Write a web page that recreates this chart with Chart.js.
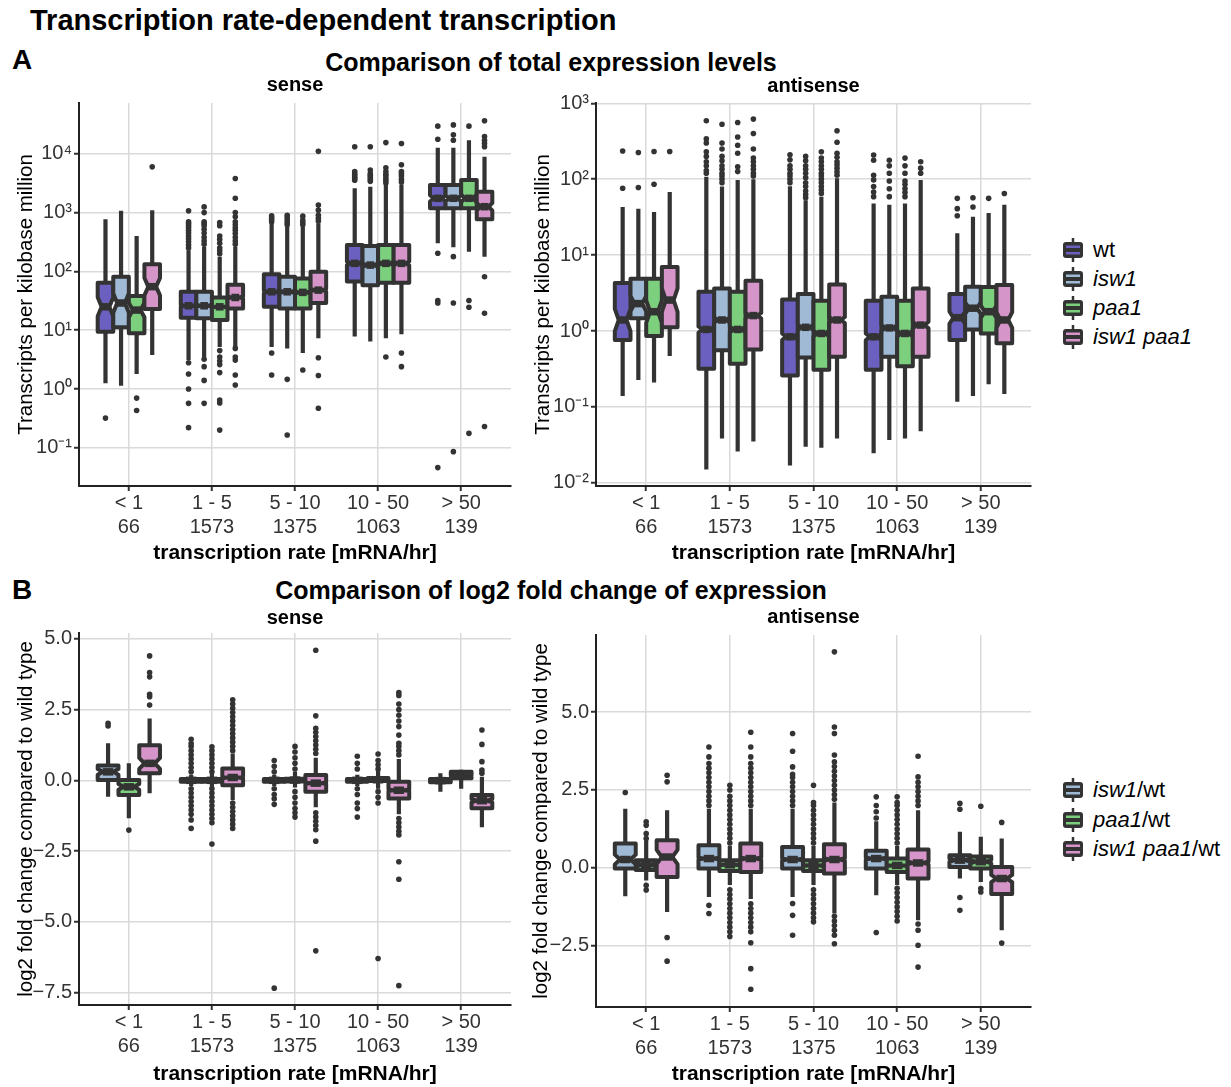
<!DOCTYPE html>
<html>
<head>
<meta charset="utf-8">
<script src="https://cdn.jsdelivr.net/npm/chart.js@4.4.0/dist/chart.umd.min.js"></script>
<style>
body { margin: 0; background: #fff; width: 1231px; height: 1087px; position: relative; overflow: hidden; font-family: "Liberation Sans", Arial, sans-serif; }
.t { position: absolute; white-space: nowrap; color: #000; font-weight: bold; }
.c { transform: translateX(-50%); }
canvas { position: absolute; }
.leg { position: absolute; left: 1062px; font-size: 22px; height: 26px; line-height: 26px; display: flex; align-items: center; white-space: nowrap; color: #000; }
.leg svg { margin-right: 9px; }
</style>
</head>
<body>
<div class="t" style="left:30px;top:3px;font-size:29px;line-height:34px">Transcription rate-dependent transcription</div>
<div class="t" style="left:12px;top:43px;font-size:28px;line-height:34px">A</div>
<div class="t c" style="left:551px;top:47px;font-size:25px;line-height:30px">Comparison of total expression levels</div>
<div class="t" style="left:12px;top:573px;font-size:28px;line-height:34px">B</div>
<div class="t c" style="left:551px;top:575px;font-size:25px;line-height:30px">Comparison of log2 fold change of expression</div>

<canvas id="aSense" width="520" height="504" style="left:0;top:66px"></canvas>
<canvas id="aAnti" width="520" height="504" style="left:520px;top:66px"></canvas>
<canvas id="bSense" width="520" height="493" style="left:0;top:594px"></canvas>
<canvas id="bAnti" width="520" height="493" style="left:520px;top:594px"></canvas>
<div id="legends"></div>

<script>
// categories and tick labels
var rateLabels = [["< 1", "66"], ["1 - 5", "1573"], ["5 - 10", "1375"], ["10 - 50", "1063"], ["> 50", "139"]];
var geneCounts = [66, 1573, 1375, 1063, 139];
var tpmSenseTicks = [0.1, 1, 10, 100, 1000, 10000];
var tpmAntiTicks = [0.01, 0.1, 1, 10, 100, 1000];
var foldSenseTicks = [-7.5, -5, -2.5, 0, 2.5, 5];
var foldAntiTicks = [-2.5, 0, 2.5, 5];

var strainLabels = ["wt", "<i>isw1</i>", "<i>paa1</i>", "<i>isw1 paa1</i>"];
var strainColors = ["#6b60bf", "#a0bad6", "#7ccf7c", "#d595c9"];
var ratioLabels = ["<i>isw1</i>/wt", "<i>paa1</i>/wt", "<i>isw1 paa1</i>/wt"];
var ratioColors = ["#a0bad6", "#7ccf7c", "#d595c9"];

// box stats per category: [lower whisker, Q1, median, Q3, upper whisker]
// A, sense (TPM)
var aSenseWt = [[1.25, 9.4, 25, 64, 770], [3.1, 16.3, 26, 45, 230], [5.2, 25, 45, 89, 660], [7.8, 67, 137, 281, 2600], [300, 1180, 1750, 2950, 12700]];
var aSenseWtOut = [[0.32], [0.22, 0.57, 1.0, 1.8, 2.8, 250, 280, 320, 360, 400, 450, 500, 550, 600, 650, 700, 1070], [1.73, 4.1, 700, 760, 820, 880], [3550, 3800, 4000, 4300, 4600, 5000, 13200], [0.046, 29, 32, 204, 17700, 29500]];
var aSenseIsw = [[1.14, 11.2, 29, 81, 1070], [3.5, 16, 26, 45, 260], [4.9, 23.5, 45, 81, 575], [6.4, 58, 128, 270, 2750], [257, 1180, 1750, 2950, 12700]];
var aSenseIswOut = [[], [0.57, 1.4, 2.4, 3.2, 290, 330, 380, 450, 520, 600, 650, 700, 1000, 1250], [0.165, 1.46, 620, 680, 750, 820, 900], [3400, 3700, 4000, 4300, 4600, 5300, 13200], [0.086, 29, 178, 17000, 21000, 31000]];
var aSensePaa = [[1.8, 8.9, 22, 38, 400], [5.2, 14.9, 25, 36, 178], [4.1, 23.5, 44, 76, 575], [7.3, 64, 137, 281, 2950], [216, 1180, 1750, 3580, 17000]];
var aSensePaaOut = [[0.43, 0.70], [0.2, 0.58, 0.65, 1.9, 2.6, 3, 3.5, 4.5, 200, 225, 250, 300, 350, 400, 600, 680], [2.1, 620, 680, 750, 870], [3.5, 3200, 3500, 3800, 4200, 4500, 5000, 5800, 15500], [0.176, 24.5, 32, 29500]];
var aSenseDbl = [[3.8, 23, 55, 132, 1100], [5.2, 23.5, 36, 59, 260], [7.3, 29, 48, 99, 660], [8.5, 64, 137, 281, 3000], [178, 770, 1260, 2270, 8900]];
var aSenseDblOut = [[6000], [1.17, 1.73, 3.1, 3.5, 4.9, 290, 330, 380, 440, 500, 550, 620, 700, 850, 1000, 1750, 3800], [0.47, 1.7, 3.4, 720, 800, 900, 1100, 1340, 11000], [2.4, 4.1, 3300, 3700, 4200, 4600, 5000, 6500, 15000], [0.23, 19.4, 81, 13200, 15000, 17000, 19600, 36500]];

// A, antisense (TPM)
var aAntiWt = [[0.14, 0.76, 1.4, 4.3, 43], [0.015, 0.32, 1.05, 3.3, 108], [0.017, 0.26, 0.84, 2.6, 81], [0.0245, 0.31, 0.84, 2.5, 48], [0.117, 0.76, 1.5, 3.07, 19.4]];
var aAntiWtOut = [[76, 235], [120, 130, 150, 170, 200, 230, 300, 340, 590], [90, 100, 110, 120, 135, 150, 180, 210], [59, 68, 80, 98, 113, 178, 209], [33, 41, 56]];
var aAntiIsw = [[0.226, 1.47, 2.3, 4.9, 41], [0.0385, 0.56, 1.4, 3.65, 80], [0.030, 0.45, 1.12, 3.07, 53], [0.0366, 0.46, 1.1, 2.83, 46], [0.14, 1.05, 2.0, 3.84, 32]];
var aAntiIswOut = [[78, 225], [90, 100, 110, 120, 135, 150, 175, 200, 250, 300, 530], [57, 63, 70, 80, 90, 105, 120, 135, 150, 175, 200], [59, 75, 95, 120, 150, 178], [43, 57]];
var aAntiPaa = [[0.21, 0.86, 1.8, 4.9, 37], [0.026, 0.37, 1.05, 3.3, 98], [0.029, 0.31, 0.93, 2.5, 59], [0.0385, 0.345, 0.93, 2.5, 48], [0.2, 0.93, 1.8, 3.8, 36]];
var aAntiPaaOut = [[86, 232], [126, 146, 220, 280, 360, 560], [65, 72, 80, 90, 100, 110, 120, 135, 150, 170, 190, 230], [59, 67, 75, 85, 95, 120, 150, 190], [56]];
var aAntiDbl = [[0.47, 1.12, 2.56, 7.0, 68], [0.035, 0.57, 1.6, 4.6, 100], [0.0385, 0.46, 1.4, 4.1, 103], [0.048, 0.46, 1.2, 3.65, 98], [0.148, 0.69, 1.4, 4.04, 46]];
var aAntiDblOut = [[232], [110, 120, 135, 150, 170, 190, 250, 400, 620], [113, 125, 140, 155, 170, 195, 220, 307, 435], [120, 140, 170], [65]];

// B, sense (log2 fold change)
var bSenseIsw = [[-0.58, 0.01, 0.30, 0.52, 1.31], [-0.2, -0.05, 0, 0.05, 0.2], [-0.2, -0.05, 0, 0.05, 0.2], [-0.2, -0.05, 0, 0.05, 0.2], [-0.4, -0.07, -0.01, 0.05, 0.25]];
var bSenseIswOut = [[1.92, 2.02], [-1.7, -1.4, -1.2, -1.05, -0.9, -0.75, -0.6, -0.45, -0.3, 0.3, 0.45, 0.6, 0.75, 0.9, 1.05, 1.2, 1.3, 1.45], [-7.35, -0.85, -0.65, -0.5, -0.3, 0.3, 0.5, 0.7], [-1.3, -1.0, -0.8, -0.5, -0.3, 0.4, 0.6, 0.85], []];
var bSensePaa = [[-1.34, -0.52, -0.23, 0.01, 0.6], [-0.25, -0.05, 0, 0.05, 0.25], [-0.25, -0.04, 0.01, 0.06, 0.3], [-0.3, -0.02, 0.02, 0.08, 0.35], [-0.3, 0.07, 0.15, 0.30, 0.37]];
var bSensePaaOut = [[-1.76], [-2.25, -1.5, -1.35, -1.2, -1.05, -0.9, -0.75, -0.6, -0.45, -0.3, 0.3, 0.45, 0.6, 0.75, 0.9, 1.05, 1.19], [-1.3, -1.15, -1.0, -0.8, -0.6, -0.4, 0.4, 0.6, 0.8, 1.0, 1.2], [-6.3, -0.8, -0.6, -0.4, 0.4, 0.55, 0.7, 0.93], []];
var bSenseDbl = [[-0.46, 0.25, 0.6, 1.24, 2.19], [-0.7, -0.17, 0.1, 0.42, 0.95], [-0.95, -0.4, -0.1, 0.19, 0.8], [-1.2, -0.64, -0.35, -0.05, 0.75], [-1.66, -0.99, -0.72, -0.52, 0.13]];
var bSenseDblOut = [[2.66, 2.96, 3.04, 3.66, 3.81, 4.40], [-1.7, -1.55, -1.4, -1.25, -1.1, -0.95, -0.8, 1.05, 1.2, 1.35, 1.5, 1.65, 1.8, 1.95, 2.1, 2.25, 2.4, 2.55, 2.7, 2.85], [-6.03, -2.15, -1.75, -1.6, -1.45, -1.3, -1.15, 0.95, 1.1, 1.25, 1.4, 1.55, 1.7, 1.84, 2.28, 4.6], [-7.26, -3.5, -2.88, -1.93, -1.8, -1.65, -1.5, -1.35, 0.9, 1.05, 1.2, 1.31, 1.6, 1.9, 2.1, 2.3, 2.5, 2.7, 3.0, 3.1], [0.25, 0.36, 0.66, 1.27, 1.78]];

// B, antisense (log2 fold change)
var bAntiIsw = [[-0.91, -0.02, 0.27, 0.78, 1.9], [-0.93, -0.02, 0.3, 0.73, 1.9], [-0.93, -0.02, 0.27, 0.67, 1.9], [-0.88, -0.02, 0.3, 0.55, 1.5], [-0.34, 0.03, 0.25, 0.41, 1.16]];
var bAntiIswOut = [[2.42], [-1.46, -1.2, 2.0, 2.15, 2.3, 2.45, 2.6, 2.75, 2.9, 3.05, 3.2, 3.35, 3.56, 3.88], [-2.16, -1.52, -1.14, 2.0, 2.15, 2.3, 2.45, 2.6, 2.75, 2.9, 3.0, 3.24, 3.74, 4.31], [-2.07, 1.6, 1.8, 2.0, 2.28], [-1.36, -0.95, 1.88, 2.07]];
var bAntiPaa = [[-0.4, -0.07, 0.1, 0.25, 0.89], [-0.55, -0.1, 0.1, 0.25, 0.7], [-0.55, -0.1, 0.08, 0.25, 0.7], [-0.55, -0.13, 0.08, 0.3, 0.7], [-0.45, -0.02, 0.2, 0.37, 1.0]];
var bAntiPaaOut = [[-0.71, -0.56, 0.94, 1.1, 1.37, 1.48], [-2.2, -2.05, -1.9, -1.75, -1.6, -1.45, -1.3, -1.15, -1.0, -0.85, -0.7, 0.8, 0.95, 1.1, 1.25, 1.4, 1.55, 1.7, 1.85, 2.0, 2.15, 2.3, 2.5, 2.65], [-1.73, -1.6, -1.45, -1.3, -1.15, -1.0, -0.85, -0.7, 0.8, 0.95, 1.1, 1.25, 1.4, 1.55, 1.7, 1.85, 2.0, 2.1, 2.65], [-1.7, -1.55, -1.4, -1.25, -1.1, -0.95, -0.8, -0.65, 0.8, 0.95, 1.1, 1.25, 1.4, 1.55, 1.7, 1.85, 2.0, 2.1, 2.28], [-0.77, -0.66, 1.98]];
var bAntiDbl = [[-1.41, -0.29, 0.35, 0.89, 1.85], [-1.0, -0.13, 0.3, 0.78, 1.9], [-1.46, -0.18, 0.27, 0.76, 2.1], [-1.68, -0.34, 0.16, 0.59, 1.85], [-2.0, -0.84, -0.34, 0.03, 0.94]];
var bAntiDblOut = [[-2.99, -2.23, 2.76, 2.97], [-3.89, -3.23, -2.4, -2.05, -1.9, -1.75, -1.6, -1.45, -1.3, -1.15, 2.0, 2.15, 2.3, 2.45, 2.6, 2.75, 2.9, 3.05, 3.2, 3.35, 3.56, 3.88, 4.35], [-2.43, -2.16, -2.0, -1.85, -1.7, -1.55, 2.2, 2.35, 2.5, 2.65, 2.8, 2.95, 3.1, 3.25, 3.4, 3.62, 4.31, 4.52, 6.93], [-3.18, -2.48, -2.0, -1.8, 2.0, 2.15, 2.3, 2.45, 2.6, 2.75, 2.92, 3.58], [-2.41, 1.46]];

var FONT = '"Liberation Sans", Arial, sans-serif';
Chart.defaults.font.family = FONT;
Chart.defaults.color = '#333';

var SUP = {'-': '\u207B', '0': '\u2070', '1': '\u00B9', '2': '\u00B2', '3': '\u00B3', '4': '\u2074'};
function pow10Label(v) {
  var e = String(Math.round(Math.log10(v)));
  return '10' + e.split('').map(function (ch) { return SUP[ch]; }).join('');
}
function foldLabel(v) {
  return (v < 0 ? '\u2212' : '') + Math.abs(v).toFixed(1);
}

// draws whiskers + notched boxes (ggplot style) through the chart scales
function boxPlugin(series, half, isLog) {
  var f = isLog ? Math.log10 : function (v) { return v; };
  var g = isLog ? function (v) { return Math.pow(10, v); } : function (v) { return v; };
  return {
    id: 'boxes',
    afterDatasetsDraw: function (chart) {
      var ctx = chart.ctx, x = chart.scales.x, y = chart.scales.y;
      ctx.save();
      ctx.lineJoin = 'round';
      ctx.strokeStyle = '#333';
      series.forEach(function (s) {
        s.stats.forEach(function (st, i) {
          var cx = i + s.offset;
          var nd = 1.58 * (f(st[3]) - f(st[1])) / Math.sqrt(geneCounts[i]);
          var xl = x.getPixelForValue(cx - half), xr = x.getPixelForValue(cx + half);
          var xc = x.getPixelForValue(cx);
          var xnl = x.getPixelForValue(cx - half / 2), xnr = x.getPixelForValue(cx + half / 2);
          var ylo = y.getPixelForValue(st[0]), yq1 = y.getPixelForValue(st[1]);
          var ym = y.getPixelForValue(st[2]), yq3 = y.getPixelForValue(st[3]);
          var yhi = y.getPixelForValue(st[4]);
          var nUp = y.getPixelForValue(g(f(st[2]) + nd)), nDn = y.getPixelForValue(g(f(st[2]) - nd));
          ctx.lineWidth = 4.2;
          ctx.beginPath();
          ctx.moveTo(xc, yhi); ctx.lineTo(xc, yq3);
          ctx.moveTo(xc, yq1); ctx.lineTo(xc, ylo);
          ctx.stroke();
          ctx.lineWidth = 4;
          ctx.beginPath();
          ctx.moveTo(xl, yq3); ctx.lineTo(xl, nUp); ctx.lineTo(xnl, ym); ctx.lineTo(xl, nDn); ctx.lineTo(xl, yq1);
          ctx.lineTo(xr, yq1); ctx.lineTo(xr, nDn); ctx.lineTo(xnr, ym); ctx.lineTo(xr, nUp); ctx.lineTo(xr, yq3);
          ctx.closePath();
          ctx.fillStyle = s.color;
          ctx.fill();
          ctx.stroke();
          ctx.lineWidth = 7.5;
          ctx.beginPath();
          ctx.moveTo(xnl, ym); ctx.lineTo(xnr, ym);
          ctx.stroke();
        });
      });
      ctx.restore();
    }
  };
}

function makePanel(id, p) {
  var datasets = p.series.map(function (s) {
    var pts = [];
    s.outliers.forEach(function (vals, i) {
      vals.forEach(function (v) { pts.push({x: i + s.offset, y: v}); });
    });
    return {data: pts, pointRadius: 2.8, pointBackgroundColor: '#333', pointBorderWidth: 0, pointHoverRadius: 2.8};
  });
  var grid = {color: '#dadada', lineWidth: 1.5, drawTicks: true, tickLength: 5, tickColor: '#333', tickWidth: 2};
  var border = {display: true, color: '#222', width: 2};
  var yScale = {
    type: p.log ? 'logarithmic' : 'linear',
    min: p.yMin, max: p.yMax,
    afterBuildTicks: function (s) { s.ticks = p.yTicks.map(function (v) { return {value: v}; }); },
    afterFit: function (s) { s.width = p.yWidth; },
    ticks: {padding: 2, color: '#333', font: {size: 20}, callback: p.log ? pow10Label : foldLabel},
    grid: grid, border: border,
    title: {display: true, text: p.yTitle, color: '#000', font: {size: 20.5}, padding: {top: p.yTitlePad, bottom: 0}}
  };
  new Chart(id, {
    type: 'scatter',
    data: {datasets: datasets},
    options: {
      responsive: false, animation: false, events: [],
      layout: {padding: {left: 0, right: 9, top: 0, bottom: 0}},
      plugins: {
        legend: {display: false}, tooltip: {enabled: false},
        title: {display: true, text: p.title, fullSize: false, color: '#000', font: {size: 20, weight: 'bold'}, padding: {top: p.titlePad[0], bottom: p.titlePad[1]}}
      },
      scales: {
        x: {
          type: 'linear', min: -0.6, max: 4.6,
          afterBuildTicks: function (s) { s.ticks = rateLabels.map(function (l, i) { return {value: i}; }); },
          afterFit: function (s) { s.height = p.xHeight; },
          ticks: {autoSkip: false, maxRotation: 0, padding: 0, color: '#333', font: {size: 20}, callback: function (v) { return rateLabels[v]; }},
          grid: grid, border: border,
          title: {display: true, text: 'transcription rate [mRNA/hr]', color: '#000', font: {size: 21, weight: 'bold'}, padding: {top: 0, bottom: p.xTitlePad}}
        },
        y: yScale
      }
    },
    plugins: [boxPlugin(p.series, p.half, p.log)]
  });
}

var off4 = [-0.28125, -0.09375, 0.09375, 0.28125];
var off3 = [-0.25, 0, 0.25];

makePanel('aSense', {
  title: 'sense', titlePad: [7, 6], log: true, yMin: 0.0224, yMax: 73100, yTicks: tpmSenseTicks,
  yTitle: 'Transcripts per kilobase million', yWidth: 79, yTitlePad: 14, xHeight: 84, xTitlePad: 4, half: 0.09375,
  series: [
    {stats: aSenseWt, outliers: aSenseWtOut, color: strainColors[0], offset: off4[0]},
    {stats: aSenseIsw, outliers: aSenseIswOut, color: strainColors[1], offset: off4[1]},
    {stats: aSensePaa, outliers: aSensePaaOut, color: strainColors[2], offset: off4[2]},
    {stats: aSenseDbl, outliers: aSenseDblOut, color: strainColors[3], offset: off4[3]}
  ]
});
makePanel('aAnti', {
  title: 'antisense', titlePad: [8, 5], log: true, yMin: 0.0091, yMax: 1010, yTicks: tpmAntiTicks,
  yTitle: 'Transcripts per kilobase million', yWidth: 76, yTitlePad: 11, xHeight: 84, xTitlePad: 4, half: 0.09375,
  series: [
    {stats: aAntiWt, outliers: aAntiWtOut, color: strainColors[0], offset: off4[0]},
    {stats: aAntiIsw, outliers: aAntiIswOut, color: strainColors[1], offset: off4[1]},
    {stats: aAntiPaa, outliers: aAntiPaaOut, color: strainColors[2], offset: off4[2]},
    {stats: aAntiDbl, outliers: aAntiDblOut, color: strainColors[3], offset: off4[3]}
  ]
});
makePanel('bSense', {
  title: 'sense', titlePad: [12, 3], log: false, yMin: -7.945, yMax: 5.21, yTicks: foldSenseTicks,
  yTitle: 'log2 fold change compared to wild type', yWidth: 79, yTitlePad: 14, xHeight: 82, xTitlePad: 0, half: 0.125,
  series: [
    {stats: bSenseIsw, outliers: bSenseIswOut, color: ratioColors[0], offset: off3[0]},
    {stats: bSensePaa, outliers: bSensePaaOut, color: ratioColors[1], offset: off3[1]},
    {stats: bSenseDbl, outliers: bSenseDblOut, color: ratioColors[2], offset: off3[2]}
  ]
});
makePanel('bAnti', {
  title: 'antisense', titlePad: [11, 6], log: false, yMin: -4.46, yMax: 7.47, yTicks: foldAntiTicks,
  yTitle: 'log2 fold change compared to wild type', yWidth: 76, yTitlePad: 9.5, xHeight: 80, xTitlePad: 0, half: 0.125,
  series: [
    {stats: bAntiIsw, outliers: bAntiIswOut, color: ratioColors[0], offset: off3[0]},
    {stats: bAntiPaa, outliers: bAntiPaaOut, color: ratioColors[1], offset: off3[1]},
    {stats: bAntiDbl, outliers: bAntiDblOut, color: ratioColors[2], offset: off3[2]}
  ]
});

// legends (boxplot key glyphs)
function glyph(color) {
  return '<svg width="22" height="26"><line x1="11" y1="1" x2="11" y2="25" stroke="#333" stroke-width="2.5"/>' +
    '<rect x="1" y="5" width="20" height="16" rx="3" fill="#333"/>' +
    '<rect x="4" y="8.5" width="14" height="2.5" fill="' + color + '"/>' +
    '<rect x="4" y="15" width="14" height="2.5" fill="' + color + '"/></svg>';
}
var html = '';
strainLabels.forEach(function (lab, i) {
  html += '<div class="leg" style="top:' + (237 + i * 29) + 'px">' + glyph(strainColors[i]) + '<span>' + lab + '</span></div>';
});
ratioLabels.forEach(function (lab, i) {
  html += '<div class="leg" style="top:' + (777 + i * 29.5) + 'px">' + glyph(ratioColors[i]) + '<span>' + lab + '</span></div>';
});
document.getElementById('legends').innerHTML = html;
</script>
</body>
</html>
